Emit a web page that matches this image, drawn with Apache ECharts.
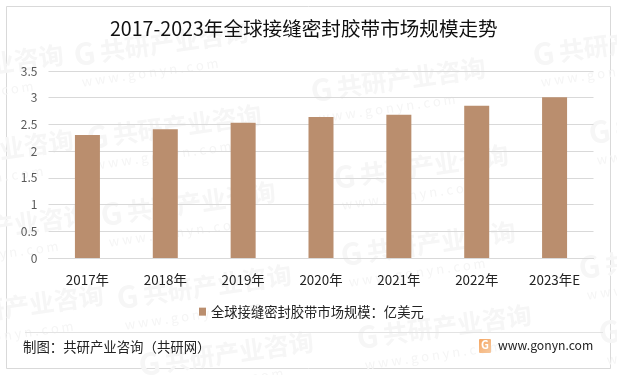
<!DOCTYPE html>
<html><head><meta charset="utf-8">
<style>html,body{margin:0;padding:0;background:#fff}#c{width:617px;height:375px}</style>
<script src="https://cdn.jsdelivr.net/npm/echarts@6/dist/echarts.min.js"></script>
</head><body><div id="c"></div>
<script>
const titleText = '2017-2023年全球接缝密封胶带市场规模走势';
const seriesName = '全球接缝密封胶带市场规模\uFF1A亿美元';
const categories = ['2017年','2018年','2019年','2020年','2021年','2022年','2023年E'];
const values = [2.30,2.41,2.53,2.64,2.68,2.85,3.01];
const footerLeft = '制图\uFF1A共研产业咨询\uFF08共研网\uFF09';
const footerRight = 'www.gonyn.com';
const wmMain = '共研产业咨询';
const wmSub = 'w w w . g o n y n . c o m';
const wmSpots = [[-100,170],[-85,245],[-70,325],[75,62],[88,145],[102,222],[118,305],[140,372],[312,98],[335,185],[342,262],[358,345],[534,62],[590,140],[580,275],[600,340],[-110,85]];
const FONT = '"Noto Sans CJK SC","Noto Sans",sans-serif';
const wm = wmSpots.map(p => ({
  type:'group', x:p[0], y:p[1], rotation:8*Math.PI/180, silent:true, z:0,
  children:[
    {type:'text', x:0, y:-22, style:{text:'G',font:'bold 30px '+FONT,fill:'#f6f6f6'}},
    {type:'text', x:26, y:-19, style:{text:wmMain,font:'bold 25px '+FONT,fill:'#f6f6f6'}},
    {type:'text', x:4, y:14, style:{text:wmSub,font:'13px '+FONT,fill:'#f5f5f5'}}
  ]
}));
const chart = echarts.init(document.getElementById('c'),null,{renderer:'canvas'});
chart.setOption({
  animation:false,
  backgroundColor:'#fff',
  title:{text:titleText,left:110,top:19,padding:0,textStyle:{fontFamily:FONT,fontSize:19.6,fontWeight:'normal',color:'#111'}},
  grid:{left:48.5,right:23.5,top:71,bottom:117},
  legend:{data:[seriesName],left:199,top:305,padding:0,icon:'rect',itemWidth:7,itemHeight:8,itemGap:4,textStyle:{fontFamily:FONT,fontSize:13.3,color:'#222',padding:[0,0,0,0]}},
  xAxis:{type:'category',data:categories,axisTick:{show:false},axisLine:{lineStyle:{color:'#d9d9d9',width:1}},axisLabel:{fontFamily:FONT,fontSize:13.4,color:'#222',margin:15}},
  yAxis:{type:'value',min:0,max:3.5,interval:0.5,axisLine:{show:false},axisTick:{show:false},splitLine:{lineStyle:{color:'#d9d9d9',width:1}},axisLabel:{fontFamily:FONT,fontSize:12,color:'#595959',margin:11}},
  series:[{name:seriesName,type:'bar',data:values,barWidth:25,itemStyle:{color:'#BA8E6E'},z:3}],
  graphic:[
    {type:'rect',shape:{x:6.5,y:6.5,width:604,height:362},style:{fill:'none',stroke:'#d9d9d9',lineWidth:1},silent:true,z:-1},
    ...wm,
    {type:'line',shape:{x1:25,y1:332.5,x2:603,y2:332.5},style:{stroke:'#e3e3e3',lineWidth:1},z:5},
    {type:'text',x:23,y:340,style:{text:footerLeft,font:'13.4px '+FONT,fill:'#222'},z:5},
    {type:'rect',shape:{x:479,y:339,width:12,height:14,r:1},style:{fill:new echarts.graphic.LinearGradient(0,0,1,1,[{offset:0,color:'#f6a763'},{offset:1,color:'#f6c9a0'}])},z:5},
    {type:'text',x:481,y:339,style:{text:'G',font:'bold 11px '+FONT,fill:'#fff'},z:6},
    {type:'text',x:498,y:339,style:{text:footerRight,font:'12.2px '+FONT,fill:'#222'},z:5}
  ]
});
</script></body></html>
